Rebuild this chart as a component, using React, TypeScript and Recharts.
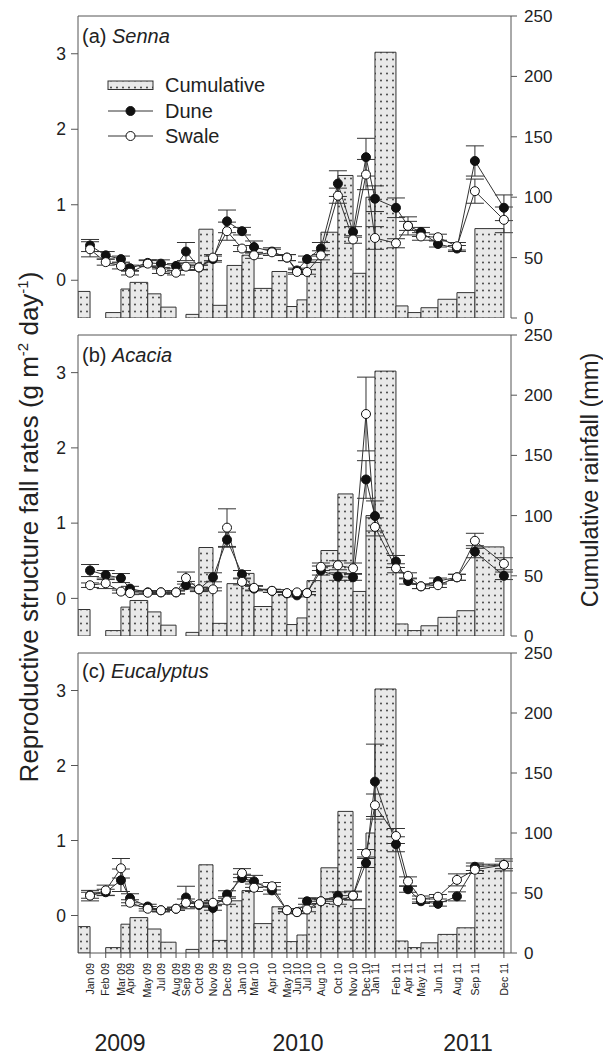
import {
  ComposedChart,
  ErrorBar,
  Line,
  ReferenceArea,
  ReferenceLine,
  XAxis,
  YAxis,
} from "recharts";

// sampling dates, as months since 1 Dec 2008
const sampleLabels = [
  "Jan 09", "Feb 09", "Mar 09", "Apr 09", "May 09", "Jul 09", "Aug 09", "Sep 09",
  "Oct 09", "Nov 09", "Dec 09", "Jan 10", "Mar 10", "Apr 10", "May 10", "Jun 10",
  "Jul 10", "Aug 10", "Oct 10", "Nov 10", "Dec 10", "Jan 11", "Feb 11", "Apr 11",
  "May 11", "Jun 11", "Aug 11", "Sep 11", "Dec 11",
];
const sampleMonth = [
  1.02, 2.35, 3.64, 4.41, 5.91, 7.03, 8.31, 9.15, 10.25, 11.44, 12.63, 13.9, 14.92,
  16.44, 17.71, 18.56, 19.41, 20.59, 22.03, 23.31, 24.41, 25.17, 26.95, 27.97, 29.07,
  30.51, 32.12, 33.64, 36.1,
];
// rainfall (mm) accumulated up to each sampling date
const rainfall = [
  22, 0, 4.5, 24, 29.5, 20, 9, 0, 3, 73.5, 10.5, 43.5, 52, 24.5, 38.5, 9.5, 15, 46,
  71, 118, 37, 100, 220, 10, 4.5, 8.5, 15.5, 21, 74,
];

const sennaDune = [0.46, 0.33, 0.28, 0.16, 0.23, 0.22, 0.19, 0.38, 0.17, 0.28, 0.78, 0.65, 0.44, 0.38, 0.3, 0.13, 0.28, 0.42, 1.28, 0.64, 1.63, 1.08, 0.96, 0.72, 0.64, 0.48, 0.42, 1.58, 0.96];
const sennaDuneErr = [0.08, 0.05, 0.04, 0.04, 0.04, 0.05, 0.03, 0.12, 0.03, 0.04, 0.15, 0.05, 0.08, 0.05, 0.04, 0.03, 0.04, 0.08, 0.17, 0.07, 0.25, 0.17, 0.13, 0.12, 0.06, 0.04, 0.04, 0.2, 0.17];
const sennaSwale = [0.41, 0.24, 0.19, 0.1, 0.22, 0.12, 0.1, 0.18, 0.17, 0.3, 0.65, 0.42, 0.33, 0.37, 0.3, 0.11, 0.11, 0.33, 1.12, 0.54, 1.4, 0.56, 0.49, 0.72, 0.58, 0.57, 0.45, 1.18, 0.8];
const sennaSwaleErr = [0.1, 0.04, 0.04, 0.03, 0.04, 0.03, 0.03, 0.05, 0.03, 0.04, 0.12, 0.04, 0.04, 0.04, 0.04, 0.03, 0.03, 0.06, 0.1, 0.05, 0.2, 0.15, 0.06, 0.06, 0.05, 0.04, 0.05, 0.16, 0.17];

const acaciaDune = [0.37, 0.31, 0.27, 0.13, 0.08, 0.08, 0.08, 0.175, 0.12, 0.28, 0.78, 0.32, 0.13, 0.1, 0.066, 0.04, 0.07, 0.37, 0.29, 0.28, 1.58, 1.095, 0.49, 0.23, 0.16, 0.23, 0.28, 0.62, 0.3];
const acaciaDuneErr = [0.08, 0.06, 0.06, 0.03, 0.02, 0.02, 0.02, 0.05, 0.03, 0.06, 0.1, 0.05, 0.03, 0.02, 0.02, 0.02, 0.02, 0.06, 0.05, 0.04, 0.25, 0.2, 0.08, 0.04, 0.03, 0.04, 0.04, 0.08, 0.05];
const acaciaSwale = [0.175, 0.2, 0.09, 0.07, 0.075, 0.08, 0.08, 0.27, 0.12, 0.12, 0.94, 0.22, 0.14, 0.1, 0.07, 0.08, 0.07, 0.42, 0.44, 0.4, 2.45, 0.95, 0.4, 0.3, 0.16, 0.175, 0.28, 0.765, 0.46];
const acaciaSwaleErr = [0.03, 0.07, 0.02, 0.02, 0.02, 0.02, 0.02, 0.08, 0.02, 0.02, 0.25, 0.04, 0.03, 0.02, 0.02, 0.02, 0.02, 0.05, 0.06, 0.07, 0.49, 0.12, 0.06, 0.04, 0.03, 0.03, 0.04, 0.1, 0.08];

const eucDune = [0.27, 0.31, 0.47, 0.23, 0.12, 0.07, 0.09, 0.24, 0.14, 0.1, 0.28, 0.5, 0.455, 0.335, 0.07, 0.045, 0.19, 0.19, 0.265, 0.265, 0.7, 1.785, 0.95, 0.35, 0.19, 0.155, 0.255, 0.65, 0.675];
const eucDuneErr = [0.04, 0.04, 0.15, 0.06, 0.03, 0.02, 0.02, 0.15, 0.03, 0.03, 0.05, 0.05, 0.08, 0.05, 0.02, 0.02, 0.04, 0.03, 0.05, 0.06, 0.06, 0.5, 0.1, 0.04, 0.03, 0.03, 0.06, 0.05, 0.05];
const eucSwale = [0.265, 0.335, 0.63, 0.17, 0.09, 0.07, 0.09, 0.17, 0.15, 0.17, 0.2, 0.565, 0.37, 0.39, 0.07, 0.045, 0.08, 0.19, 0.19, 0.265, 0.83, 1.47, 1.06, 0.455, 0.22, 0.25, 0.475, 0.61, 0.675];
const eucSwaleErr = [0.07, 0.07, 0.13, 0.04, 0.03, 0.02, 0.02, 0.05, 0.03, 0.03, 0.05, 0.06, 0.05, 0.05, 0.02, 0.02, 0.03, 0.03, 0.04, 0.05, 0.05, 0.15, 0.1, 0.06, 0.04, 0.03, 0.08, 0.05, 0.08];

const leftTicks = [0, 1, 2, 3];
const rightTicks = [0, 50, 100, 150, 200, 250];
const yearLabels = ["2009", "2010", "2011"];
const yearX = [120, 298, 468];

const FONT = '"Liberation Sans", Arial, Helvetica, sans-serif';
const X_DOMAIN: [number, number] = [0, 36.7];
const INK = "#222";
const AXIS = "#555";

const rainBars = rainfall.map((mm, i) => ({
  x1: i === 0 ? X_DOMAIN[0] : sampleMonth[i - 1],
  x2: sampleMonth[i],
  mm,
}));

type PanelDef = {
  id: string;
  dune: number[];
  duneErr: number[];
  swale: number[];
  swaleErr: number[];
};

const panels: PanelDef[] = [
  { id: "a", dune: sennaDune, duneErr: sennaDuneErr, swale: sennaSwale, swaleErr: sennaSwaleErr },
  { id: "b", dune: acaciaDune, duneErr: acaciaDuneErr, swale: acaciaSwale, swaleErr: acaciaSwaleErr },
  { id: "c", dune: eucDune, duneErr: eucDuneErr, swale: eucSwale, swaleErr: eucSwaleErr },
];

function DateTick({ x, y, payload }: any) {
  const idx = sampleMonth.indexOf(payload.value);
  return (
    <text
      x={x}
      y={y}
      dy="0.35em"
      textAnchor="end"
      transform={`rotate(-90 ${x} ${y})`}
      fontSize={10.5}
      fill={INK}
      fontFamily={FONT}
    >
      {sampleLabels[idx]}
    </text>
  );
}

function DotPattern({ id }: { id: string }) {
  return (
    <pattern id={id} width="6" height="7" patternUnits="userSpaceOnUse">
      <rect width="6" height="7" fill="#e9e9e9" />
      <circle cx="3" cy="3.5" r="0.9" fill="#333" />
    </pattern>
  );
}

function Panel({ def, bottom }: { def: PanelDef; bottom: boolean }) {
  const rows = sampleMonth.map((t, i) => ({
    t,
    dune: def.dune[i],
    duneErr: def.duneErr[i],
    swale: def.swale[i],
    swaleErr: def.swaleErr[i],
  }));
  const height = bottom ? 378 : 330;
  const marginBottom = bottom ? 0 : def.id === "a" ? 12 : 13;
  const patternId = `dots-${def.id}`;

  return (
    <ComposedChart
      width={603}
      height={height}
      data={rows}
      margin={{ top: 16, right: 0, bottom: marginBottom, left: 0 }}
      style={{ fontFamily: FONT }}
    >
      <defs>
        <DotPattern id={patternId} />
      </defs>
      <XAxis
        dataKey="t"
        type="number"
        domain={X_DOMAIN}
        allowDataOverflow
        ticks={sampleMonth}
        interval={0}
        height={bottom ? 62 : 0}
        axisLine={{ stroke: AXIS }}
        tickLine={bottom ? { stroke: AXIS } : false}
        tickSize={5}
        tickMargin={5}
        tick={bottom ? <DateTick /> : false}
      />
      <YAxis
        domain={[-0.5, 3.5]}
        ticks={leftTicks}
        allowDataOverflow
        width={78}
        axisLine={{ stroke: AXIS }}
        tickLine={{ stroke: AXIS }}
        tickSize={7}
        tickMargin={5}
        tick={{ fontSize: 17.5, fill: INK }}
      />
      <YAxis
        yAxisId="right"
        orientation="right"
        domain={[0, 250]}
        ticks={rightTicks}
        allowDataOverflow
        width={92}
        axisLine={{ stroke: AXIS }}
        tickLine={{ stroke: AXIS }}
        tickSize={6}
        tickMargin={7}
        tick={{ fontSize: 17, fill: INK }}
      />
      {rainBars
        .filter((b) => b.mm > 0)
        .map((b, i) => (
          <ReferenceArea
            key={`rain-${i}`}
            yAxisId="right"
            x1={b.x1}
            x2={b.x2}
            y1={0}
            y2={b.mm}
            fill={`url(#${patternId})`}
            fillOpacity={1}
            stroke="#333"
            strokeWidth={1}
            ifOverflow="hidden"
          />
        ))}
      <ReferenceLine y={3.5} stroke={AXIS} strokeWidth={1} />
      <Line
        dataKey="dune"
        type="linear"
        stroke="#333"
        strokeWidth={1}
        dot={{ r: 4.5, fill: "#111", stroke: "#111", strokeWidth: 1 }}
        activeDot={false}
        isAnimationActive={false}
      >
        <ErrorBar dataKey="duneErr" width={9} stroke="#333" strokeWidth={1} direction="y" />
      </Line>
      <Line
        dataKey="swale"
        type="linear"
        stroke="#333"
        strokeWidth={1}
        dot={{ r: 4.5, fill: "#fff", stroke: "#111", strokeWidth: 1 }}
        activeDot={false}
        isAnimationActive={false}
      >
        <ErrorBar dataKey="swaleErr" width={9} stroke="#333" strokeWidth={1} direction="y" />
      </Line>
    </ComposedChart>
  );
}

function Overlay() {
  const labelStyle = { fontSize: 20, fill: INK, fontFamily: FONT };
  return (
    <svg
      width={603}
      height={1055}
      style={{ position: "absolute", left: 0, top: 0, pointerEvents: "none" }}
    >
      <defs>
        <DotPattern id="dots-legend" />
      </defs>
      <text x={82} y={42.5} {...labelStyle}>
        (a) <tspan fontStyle="italic">Senna</tspan>
      </text>
      <text x={82} y={361.5} {...labelStyle}>
        (b) <tspan fontStyle="italic">Acacia</tspan>
      </text>
      <text x={82} y={677.5} {...labelStyle}>
        (c) <tspan fontStyle="italic">Eucalyptus</tspan>
      </text>

      <rect x={108} y={81} width={45} height={8.5} fill="url(#dots-legend)" stroke="#333" />
      <text x={165} y={91.5} {...labelStyle}>Cumulative</text>
      <line x1={108} x2={153} y1={111} y2={111} stroke="#333" />
      <circle cx={130.5} cy={111} r={4.5} fill="#111" stroke="#111" />
      <text x={165} y={117.5} {...labelStyle}>Dune</text>
      <line x1={108} x2={153} y1={136} y2={136} stroke="#333" />
      <circle cx={130.5} cy={136} r={4.5} fill="#fff" stroke="#111" />
      <text x={165} y={142.5} {...labelStyle}>Swale</text>

      {yearLabels.map((yr, i) => (
        <text
          key={yr}
          x={yearX[i]}
          y={1051}
          textAnchor="middle"
          fontSize={23}
          fill={INK}
          fontFamily={FONT}
        >
          {yr}
        </text>
      ))}

      <text
        transform="translate(38 527) rotate(-90)"
        textAnchor="middle"
        fontSize={26}
        fill={INK}
        fontFamily={FONT}
      >
        Reproductive structure fall rates (g m
        <tspan fontSize={15} dy={-10}>-2</tspan>
        <tspan dy={10}> day</tspan>
        <tspan fontSize={15} dy={-10}>-1</tspan>
        <tspan dy={10}>)</tspan>
      </text>
      <text
        transform="translate(598 480) rotate(-90)"
        textAnchor="middle"
        fontSize={23.5}
        fill={INK}
        fontFamily={FONT}
      >
        Cumulative rainfall (mm)
      </text>
    </svg>
  );
}

export default function App() {
  const tops = [0, 319, 637];
  return (
    <div
      style={{
        position: "absolute",
        left: 0,
        top: 0,
        width: 603,
        height: 1055,
        background: "#fff",
        fontFamily: FONT,
        overflow: "hidden",
      }}
    >
      {panels.map((p, i) => (
        <div key={p.id} style={{ position: "absolute", left: 0, top: tops[i] }}>
          <Panel def={p} bottom={i === 2} />
        </div>
      ))}
      <Overlay />
    </div>
  );
}
